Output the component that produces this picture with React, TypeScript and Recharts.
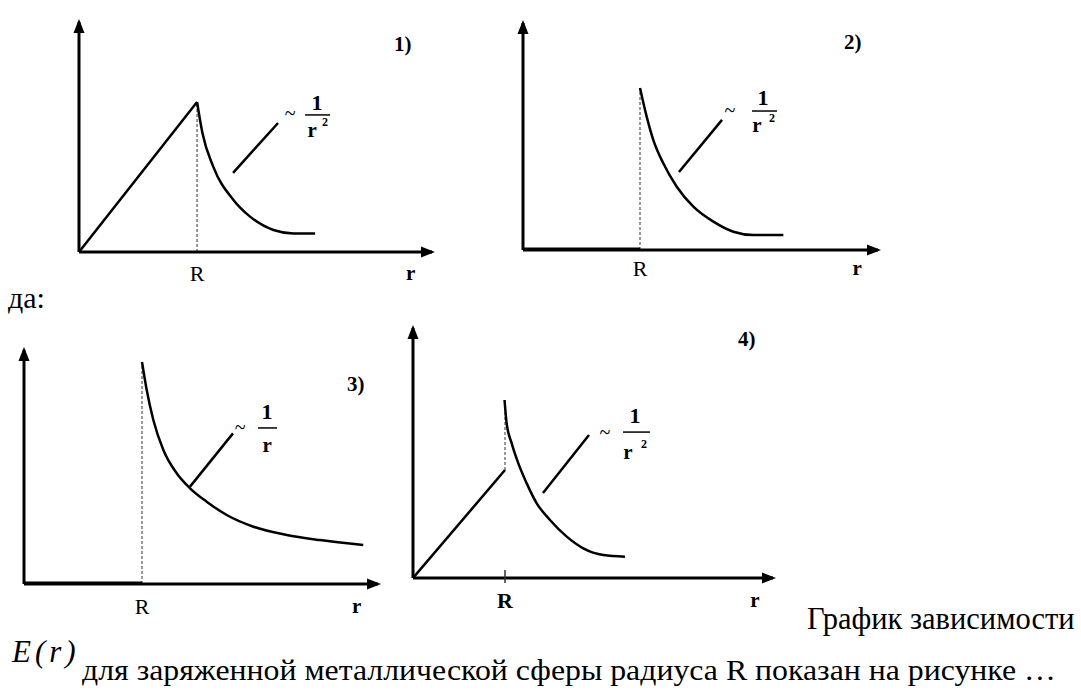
import React from 'react';
import { ComposedChart, Line, XAxis, YAxis, ReferenceLine, ReferenceDot } from 'recharts';

const FONT = "'Liberation Serif', 'Times New Roman', serif";

// ---------- Chart 1: linear inside, ~1/r^2 outside ----------
const c1Inside = [ { r: 0, E: 0 }, { r: 1, E: 1 } ];
const c1Outside = [
  { r: 1.0, E: 1.0 }, { r: 1.046, E: 0.791 }, { r: 1.137, E: 0.569 }, { r: 1.308, E: 0.347 },
  { r: 1.449, E: 0.236 }, { r: 1.647, E: 0.147 }, { r: 1.816, E: 0.124 }, { r: 2.0, E: 0.124 },
];
const c1Pointer = [ { x: 1.305, y: 0.527 }, { x: 1.686, y: 0.86 } ];
const c1Dashed = [ { x: 1, y: 0 }, { x: 1, y: 1 } ];
const c1Ticks = [1, 2.81];
const c1TickLabels = ['R', 'r'];
const c1Label = { r: 1.788, E: 0.927 };

// ---------- Chart 2: zero inside, ~1/r^2 outside ----------
const c2Inside = [ { r: 0, E: 0 }, { r: 1, E: 0 } ];
const c2Outside = [
  { r: 1.0, E: 1.08 }, { r: 1.057, E: 0.889 }, { r: 1.114, E: 0.733 }, { r: 1.199, E: 0.578 },
  { r: 1.314, E: 0.422 }, { r: 1.456, E: 0.289 }, { r: 1.627, E: 0.189 }, { r: 1.798, E: 0.122 },
  { r: 1.969, E: 0.1 }, { r: 2.225, E: 0.1 },
];
const c2Pointer = [ { x: 1.333, y: 0.52 }, { x: 1.701, y: 0.867 } ];
const c2Dashed = [ { x: 1, y: 0 }, { x: 1, y: 1.08 } ];
const c2Ticks = [1, 2.855];
const c2TickLabels = ['R', 'r'];
const c2Label = { r: 1.769, E: 0.933 };

// ---------- Chart 3: zero inside, ~1/r outside ----------
const c3Inside = [ { r: 0, E: 0 }, { r: 1, E: 0 } ];
const c3Outside = [
  { r: 1.0, E: 1.48 }, { r: 1.04, E: 1.293 }, { r: 1.096, E: 1.093 }, { r: 1.181, E: 0.893 },
  { r: 1.294, E: 0.738 }, { r: 1.407, E: 0.638 }, { r: 1.548, E: 0.549 }, { r: 1.718, E: 0.46 },
  { r: 1.944, E: 0.382 }, { r: 2.226, E: 0.327 }, { r: 2.508, E: 0.293 }, { r: 2.875, E: 0.26 },
];
const c3Pointer = [ { x: 1.407, y: 0.649 }, { x: 1.771, y: 1.004 } ];
const c3Dashed = [ { x: 1, y: 0 }, { x: 1, y: 1.48 } ];
const c3Ticks = [1, 2.82];
const c3TickLabels = ['R', 'r'];
const c3Label = { r: 1.831, E: 1.047 };

// ---------- Chart 4: linear inside, jump, ~1/r^2 outside ----------
const c4Inside = [ { r: 0, E: 0 }, { r: 1, E: 0.72 } ];
const c4Outside = [
  { r: 0.995, E: 1.187 }, { r: 1.018, E: 1.031 }, { r: 1.073, E: 0.898 }, { r: 1.145, E: 0.764 },
  { r: 1.236, E: 0.631 }, { r: 1.345, E: 0.498 }, { r: 1.489, E: 0.387 }, { r: 1.671, E: 0.276 },
  { r: 1.851, E: 0.198 }, { r: 2.069, E: 0.153 }, { r: 2.304, E: 0.142 },
];
const c4Pointer = [ { x: 1.413, y: 0.567 }, { x: 1.913, y: 0.953 } ];
const c4Dashed = [ { x: 1, y: 0.72 }, { x: 1, y: 1.187 } ];
const c4Ticks = [1, 3.717];
const c4TickLabels = ['R', 'r'];
const c4Label = { r: 2.087, E: 0.973 };

const panelLabels = ['1)', '2)', '3)', '4)'];

const ArrowRight = (p: any) => (
  <polygon points={`${p.cx + 3},${p.cy} ${p.cx - 11},${p.cy - 5.5} ${p.cx - 11},${p.cy + 5.5}`} fill="#000" />
);
const ArrowUp = (p: any) => (
  <polygon points={`${p.cx},${p.cy - 3} ${p.cx - 5.5},${p.cy + 11} ${p.cx + 5.5},${p.cy + 11}`} fill="#000" />
);

const T = ({ children, style, ...rest }: any) => (
  <text {...rest} fill="#000" style={{ fontFamily: FONT, ...(style || {}) }}>{children}</text>
);

const Fraction = ({ cx, cy, square, o }: any) => (
  <g>
    <T x={cx} y={cy} fontSize={20} textAnchor="middle" dominantBaseline="central">~</T>
    <T x={cx + o.one[0]} y={cy + o.one[1]} fontSize={22} fontWeight="bold" textAnchor="middle" dominantBaseline="central">1</T>
    <line x1={cx + o.bar[0]} x2={cx + o.bar[1]} y1={cy + o.bar[2]} y2={cy + o.bar[2]} stroke="#000" strokeWidth={1.5} />
    <T x={cx + o.r[0]} y={cy + o.r[1]} fontSize={21} fontWeight="bold" textAnchor="middle" dominantBaseline="central">r</T>
    {square && (
      <T x={cx + o.sq[0]} y={cy + o.sq[1]} fontSize={12} fontWeight="bold" textAnchor="middle" dominantBaseline="central">2</T>
    )}
  </g>
);

type PanelProps = {
  left: number; top: number; width: number; height: number;
  xMax: number; yMax: number;
  inside: any[]; outside: any[]; pointer: any[]; dashed: any[];
  ticks: number[]; tickLabels: string[]; label: { r: number; E: number };
  square: boolean; offsets: any; insideWidth: number; tickMark?: boolean; boldR?: boolean;
  rDy: number;
};

const Panel = (p: PanelProps) => {
  const renderTick = (t: any) => {
    const idx = p.ticks.indexOf(t.payload.value);
    const lbl = p.tickLabels[idx] ?? '';
    return (
      <g>
        {p.tickMark && idx === 0 && (
          <line x1={t.x} x2={t.x} y1={t.y - 8} y2={t.y + 5} stroke="#333" strokeWidth={1.5} />
        )}
        <T x={t.x} y={t.y + p.rDy} fontSize={idx === 0 ? 22 : 21}
          fontWeight={p.boldR || idx === 1 ? 'bold' : 'normal'}
          textAnchor="middle" dominantBaseline="central">{lbl}</T>
      </g>
    );
  };
  return (
    <div style={{ position: 'absolute', left: p.left, top: p.top }}>
      <ComposedChart width={p.width} height={p.height} margin={{ top: 10, right: 10, left: 10, bottom: 0 }}>
        <XAxis type="number" dataKey="r" domain={[0, p.xMax]} allowDataOverflow ticks={p.ticks} interval={0}
          tickLine={false} tickSize={0} tickMargin={0} height={40}
          axisLine={{ stroke: '#000', strokeWidth: 3 }} tick={renderTick} />
        <YAxis type="number" dataKey="E" domain={[0, p.yMax]} allowDataOverflow hide />
        <ReferenceLine segment={[{ x: 0, y: 0 }, { x: 0, y: p.yMax }]} stroke="#000" strokeWidth={3} ifOverflow="visible" />
        <ReferenceLine segment={p.dashed} stroke="#555" strokeWidth={1.2} strokeDasharray="3 2" ifOverflow="visible" />
        <Line data={p.inside} dataKey="E" type="linear" stroke="#000" strokeWidth={p.insideWidth}
          dot={false} activeDot={false} isAnimationActive={false} />
        <Line data={p.outside} dataKey="E" type="monotone" stroke="#000" strokeWidth={2.5}
          dot={false} activeDot={false} isAnimationActive={false} />
        <ReferenceLine segment={p.pointer} stroke="#000" strokeWidth={2.5} ifOverflow="visible" />
        <ReferenceDot x={p.xMax} y={0} r={0} shape={ArrowRight} ifOverflow="visible" />
        <ReferenceDot x={0} y={p.yMax} r={0} shape={ArrowUp} ifOverflow="visible" />
        <ReferenceDot x={p.label.r} y={p.label.E} r={0} ifOverflow="visible"
          shape={(s: any) => <Fraction cx={s.cx} cy={s.cy} square={p.square} o={p.offsets} />} />
      </ComposedChart>
    </div>
  );
};

// HTML text placed by baseline (Liberation Serif: baseline ≈ 0.8375em below top at line-height 1)
const H = ({ x, baseline, size, children, bold, italic, center, scaleX, spacing }: any) => (
  <div style={{
    position: 'absolute', left: x, top: baseline - 0.8375 * size, fontFamily: FONT, fontSize: size,
    lineHeight: 1, whiteSpace: 'nowrap', fontWeight: bold ? 'bold' : 'normal',
    fontStyle: italic ? 'italic' : 'normal', color: '#000', letterSpacing: spacing || 0,
    transform: `${center ? 'translateX(-50%) ' : ''}scaleX(${scaleX || 1})`,
    transformOrigin: 'left center',
  }}>{children}</div>
);

export default function App() {
  return (
    <div style={{ position: 'absolute', left: 0, top: 0, width: 1081, height: 693, background: '#fff', overflow: 'hidden' }}>
      <Panel left={69} top={12} width={373} height={280} xMax={2.99} yMax={1.533}
        inside={c1Inside} outside={c1Outside} pointer={c1Pointer} dashed={c1Dashed}
        ticks={c1Ticks} tickLabels={c1TickLabels} label={c1Label} square insideWidth={2.5} rDy={21}
        offsets={{ one: [27, -10], bar: [15, 40, 2], r: [22, 17], sq: [35, 9] }} />
      <Panel left={513} top={13} width={375} height={277} xMax={3.034} yMax={1.513}
        inside={c2Inside} outside={c2Outside} pointer={c2Pointer} dashed={c2Dashed}
        ticks={c2Ticks} tickLabels={c2TickLabels} label={c2Label} square insideWidth={5} rDy={18}
        offsets={{ one: [33, -13], bar: [22, 47, 1], r: [27, 15], sq: [42, 8] }} />
      <Panel left={14} top={340} width={374} height={284} xMax={3.0} yMax={1.56}
        inside={c3Inside} outside={c3Outside} pointer={c3Pointer} dashed={c3Dashed}
        ticks={c3Ticks} tickLabels={c3TickLabels} label={c3Label} square={false} insideWidth={5} rDy={22}
        offsets={{ one: [27, -15], bar: [18, 37, 1], r: [27, 18], sq: [0, 0] }} />
      <Panel left={403} top={318} width={380} height={300} xMax={3.913} yMax={1.667}
        inside={c4Inside} outside={c4Outside} pointer={c4Pointer} dashed={c4Dashed}
        ticks={c4Ticks} tickLabels={c4TickLabels} label={c4Label} square insideWidth={2.5} tickMark boldR rDy={22}
        offsets={{ one: [30, -17], bar: [18, 45, 0], r: [23, 20], sq: [39, 12] }} />

      <H x={394} baseline={52} size={21} bold>{panelLabels[0]}</H>
      <H x={844} baseline={50} size={21} bold>{panelLabels[1]}</H>
      <H x={347} baseline={392} size={21} bold>{panelLabels[2]}</H>
      <H x={738} baseline={347} size={21} bold>{panelLabels[3]}</H>

      <H x={8} baseline={308} size={30}>да:</H>
      <H x={807} baseline={630} size={30.5}>График зависимости</H>
      <H x={12} baseline={662} size={31} italic spacing={4}>E(r)</H>
      <H x={82} baseline={680} size={30} scaleX={1.06}>для заряженной металлической сферы радиуса R показан на рисунке …</H>
    </div>
  );
}
